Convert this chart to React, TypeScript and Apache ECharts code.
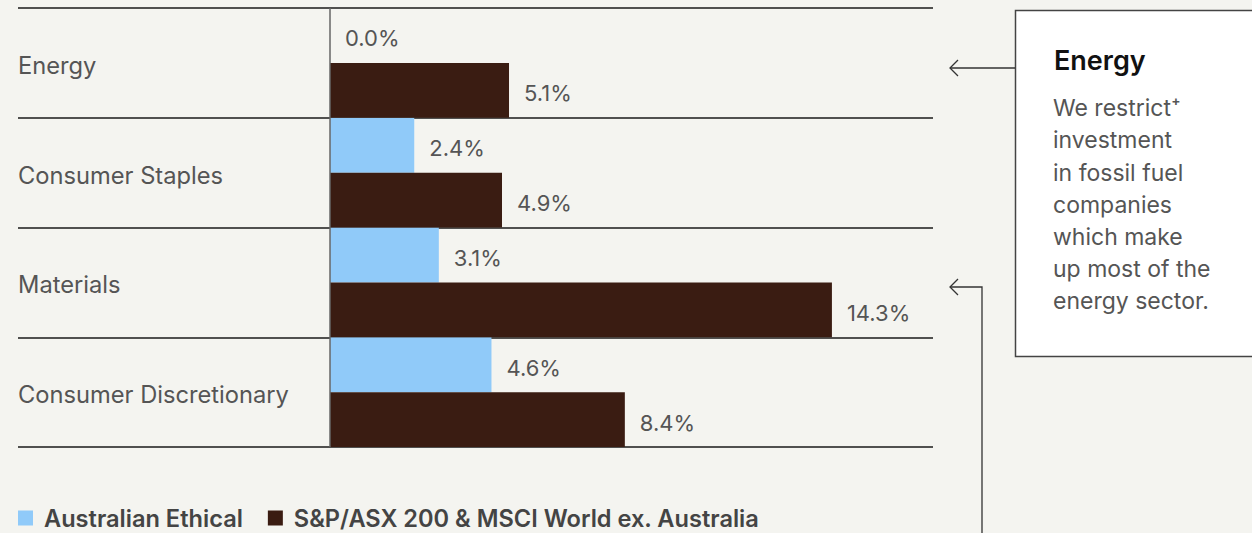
import React, { useEffect, useRef } from "react";
import * as echarts from "echarts";

const categories = ["Energy", "Consumer Staples", "Materials", "Consumer Discretionary"];
const ethical = [0.0, 2.4, 3.1, 4.6];
const benchmark = [5.1, 4.9, 14.3, 8.4];
const seriesNames = ["Australian Ethical", "S&P/ASX 200 & MSCI World ex. Australia"];
const noteTitle = "Energy";
const noteLines = ["We restrict\u207A", "investment", "in fossil fuel", "companies", "which make", "up most of the", "energy sector."];

const FONT = "Inter, 'Noto Sans', sans-serif";
const BLUE = "#90caf9";
const BROWN = "#3a1c12";

export default function App() {
  const ref = useRef<HTMLDivElement>(null);
  useEffect(() => {
    if (!ref.current) return;
    const chart = echarts.init(ref.current, undefined, { renderer: "svg" });
    const label = {
      show: true,
      position: "right",
      distance: 15,
      color: "#555",
      fontSize: 22,
      fontFamily: FONT,
      offset: [0, 3],
      formatter: (p: any) => Number(p.value).toFixed(1) + "%",
    };
    chart.setOption({
      animation: false,
      backgroundColor: "#f4f4f0",
      textStyle: { fontFamily: FONT },
      grid: { left: 18, right: 319, top: 8, bottom: 86, containLabel: false },
      xAxis: {
        type: "value",
        min: -8.89,
        max: 17.18,
        show: false,
      },
      yAxis: {
        type: "category",
        data: categories,
        inverse: true,
        axisLine: { show: false },
        axisTick: { show: false },
        splitLine: { show: true, lineStyle: { color: "#1a1a1a", width: 1.5 } },
        axisLabel: {
          inside: true,
          margin: 0,
          formatter: "{a|{value}}",
          rich: {
            a: {
              color: "#555",
              fontSize: 23.7,
              fontFamily: FONT,
              padding: [5, 0, 0, 0],
            },
          },
        },
      },
      legend: {
        left: 13,
        top: 501,
        itemWidth: 15,
        itemHeight: 15,
        itemGap: 25,
        icon: "rect",
        textStyle: {
          color: "#444",
          fontSize: 23.6,
          fontWeight: 600,
          fontFamily: FONT,
          padding: [0, 0, 0, 6],
        },
        data: seriesNames,
      },
      series: [
        {
          name: seriesNames[0],
          type: "bar",
          data: ethical,
          itemStyle: { color: BLUE },
          barGap: "0%",
          barCategoryGap: "0%",
          label,
          markLine: {
            silent: true,
            symbol: "none",
            label: { show: false },
            lineStyle: { color: "#666", width: 1.5, type: "solid" },
            data: [{ xAxis: 0 }],
          },
        },
        {
          name: seriesNames[1],
          type: "bar",
          data: benchmark,
          itemStyle: { color: BROWN },
          barGap: "0%",
          barCategoryGap: "0%",
          label,
        },
      ],
      graphic: [
        {
          type: "rect",
          shape: { x: 1015.5, y: 10.5, width: 260, height: 346 },
          style: { fill: "#ffffff", stroke: "#444", lineWidth: 1.5 },
        },
        {
          type: "text",
          x: 1054,
          y: 47,
          style: { text: noteTitle, fill: "#111", fontSize: 27, fontWeight: 600, fontFamily: FONT },
        },
        {
          type: "text",
          x: 1053,
          y: 92,
          style: {
            text: noteLines.join("\n"),
            fill: "#555",
            fontSize: 23,
            lineHeight: 32.2,
            fontFamily: FONT,
          },
        },
        {
          type: "line",
          shape: { x1: 950, y1: 68, x2: 1015, y2: 68 },
          style: { stroke: "#333", lineWidth: 1.3 },
        },
        {
          type: "polyline",
          shape: { points: [[958, 60], [950, 68], [958, 76]] },
          style: { stroke: "#333", lineWidth: 1.3, fill: "none" },
        },
        {
          type: "polyline",
          shape: { points: [[950, 287], [982, 287], [982, 540]] },
          style: { stroke: "#333", lineWidth: 1.3, fill: "none" },
        },
        {
          type: "polyline",
          shape: { points: [[958, 279], [950, 287], [958, 295]] },
          style: { stroke: "#333", lineWidth: 1.3, fill: "none" },
        },
      ],
    });
    return () => chart.dispose();
  }, []);
  return (
    <div
      ref={ref}
      style={{ position: "fixed", left: 0, top: 0, width: 1252, height: 533 }}
    />
  );
}
